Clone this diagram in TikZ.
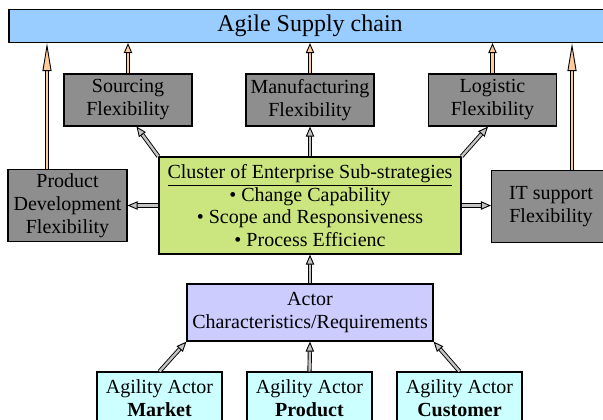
\documentclass[tikz,border=0pt]{standalone}
\usepackage{fontspec}
\setmainfont{Liberation Serif}
\usetikzlibrary{arrows.meta, positioning, calc}
\definecolor{chainblue}{HTML}{99CCFF}
\definecolor{flexgrey}{HTML}{8E8E8E}
\definecolor{clustergreen}{HTML}{CCE67F}
\definecolor{actorlilac}{HTML}{CCCCFF}
\definecolor{agilecyan}{HTML}{CCFFFF}
\definecolor{peach}{HTML}{FFCC99}
\definecolor{arrowgrey}{HTML}{C4C4C4}

\begin{document}
\begin{tikzpicture}[
  x=0.5pt, y=-0.5pt,
  box/.style={rectangle, draw=black, line width=0.6pt, align=center, inner sep=1pt, font=\fontsize{10}{11.5}\selectfont},
  flex/.style={box, fill=flexgrey, minimum width=64pt, minimum height=26pt},
  sideflex/.style={box, fill=flexgrey, minimum width=59.5pt, minimum height=36pt},
  actor/.style={box, fill=agilecyan, minimum width=62.5pt, minimum height=26pt},
  feed/.style={draw=black, line width=0.45pt, double=arrowgrey, double distance=1.2pt, -{Triangle[open, fill=arrowgrey, length=5pt, width=4.2pt]}},
  lift/.style={feed, double=peach, -{Triangle[open, fill=peach, length=5pt, width=4.2pt]}},
  longlift/.style={feed, double=peach, -{Triangle[open, fill=peach, length=14pt, width=4.5pt]}}
]
  \clip (0,0) rectangle (603,419);

  % Supply chain bar
  \node[box, fill=chainblue, minimum width=301pt, minimum height=16.5pt, font=\fontsize{12}{14}\selectfont] (asc) at (310,26) {Agile Supply chain};

  % Flexibility boxes
  \node[flex] (sc) at (128,100) {Sourcing\\Flexibility};
  \node[flex] (mf) at (310,100) {Manufacturing\\Flexibility};
  \node[flex] (lg) at (492.5,100) {Logistic\\Flexibility};
  \node[sideflex] (pd) at (67.5,205.5) {Product\\Development\\Flexibility};
  \node[sideflex] (it) at (551,206.5) {IT support\\Flexibility};

  % Sub-strategies and actors
  \node[box, fill=clustergreen, minimum width=151pt, minimum height=48.5pt, font=\fontsize{10}{11.4}\selectfont] (cl) at (310,205.5)
    {\underline{Cluster of Enterprise Sub-strategies}\\\textbullet{} Change Capability\\\textbullet{} Scope and Responsiveness\\\textbullet{} Process Efficienc};
  \node[box, fill=actorlilac, minimum width=123pt, minimum height=28.5pt] (ac) at (310,312.5) {Actor\\Characteristics/Requirements};

  \node[actor] (mk) at (159.5,398) {Agility Actor\\\textbf{Market}};
  \node[actor] (pr) at (309.5,398) {Agility Actor\\\textbf{Product}};
  \node[actor] (cu) at (459.5,398) {Agility Actor\\\textbf{Customer}};

  % Arrows into the supply chain
  \draw[longlift] ([xshift=-10.25pt]pd.north) -- ([xshift=-10.25pt]pd.north |- asc.south);
  \draw[longlift] ([xshift=10.5pt]it.north) -- ([xshift=10.5pt]it.north |- asc.south);
  \draw[lift] (sc.north) -- (sc.north |- asc.south);
  \draw[lift] (mf.north) -- (mf.north |- asc.south);
  \draw[lift] (lg.north) -- (lg.north |- asc.south);

  % Arrows out of the cluster
  \draw[feed] (cl.north west) -- ([xshift=4.25pt]sc.south);
  \draw[feed] (cl.north) -- (mf.south);
  \draw[feed] (cl.north east) -- ([xshift=-2.25pt]lg.south);
  \draw[feed] (cl.west) -- (pd.east);
  \draw[feed] (cl.east) -- (cl.east -| it.west);

  % Arrows from the actors
  \draw[feed] (ac.north) -- (cl.south);
  \draw[feed] (mk.north) -- (ac.south west);
  \draw[feed] (pr.north) -- (ac.south);
  \draw[feed] (cu.north) -- (ac.south east);
\end{tikzpicture}
\end{document}
